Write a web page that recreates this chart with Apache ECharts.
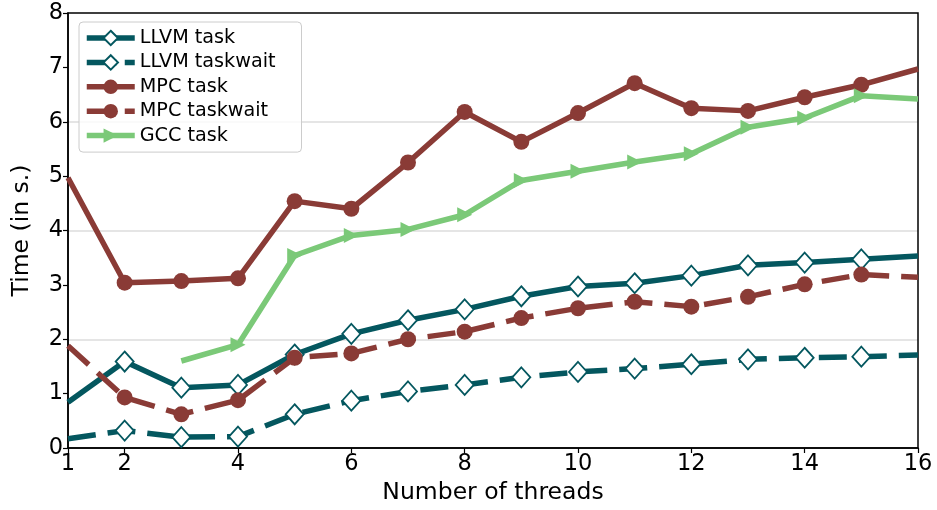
<!DOCTYPE html>
<html>
<head>
<meta charset="utf-8">
<script src="https://cdn.jsdelivr.net/npm/echarts@6/dist/echarts.min.js"></script>
<style>
html,body{margin:0;padding:0;background:#fff;}
#chart{width:937px;height:510px;}
</style>
</head>
<body>
<div id="chart"></div>
<script>
const threads = [1,2,3,4,5,6,7,8,9,10,11,12,13,14,15,16];
const xTickLabels = [1,2,4,6,8,10,12,14,16];
const yTickLabels = [0,1,2,3,4,5,6,7,8];
const llvmTask =     [0.84,1.59,1.11,1.16,1.72,2.10,2.35,2.55,2.79,2.97,3.03,3.17,3.36,3.41,3.47,3.53];
const llvmTaskwait = [0.17,0.32,0.20,0.21,0.62,0.87,1.04,1.16,1.30,1.40,1.46,1.54,1.63,1.66,1.68,1.71];
const mpcTask =      [4.97,3.04,3.07,3.12,4.54,4.40,5.25,6.18,5.63,6.16,6.71,6.25,6.20,6.45,6.68,6.97];
const mpcTaskwait =  [1.88,0.93,0.62,0.88,1.66,1.74,2.00,2.14,2.39,2.57,2.69,2.60,2.78,3.01,3.19,3.14];
const gccTask =      [null,null,1.60,1.90,3.54,3.91,4.02,4.29,4.92,5.09,5.26,5.41,5.90,6.07,6.48,6.42];

const TEAL = '#04575f';
const BROWN = '#8a3b36';
const GREEN = '#7bc978';

function buildData(vals){
  const idx = vals.map((v,i)=>v==null?-1:i).filter(i=>i>=0);
  const first = idx[0], last = idx[idx.length-1];
  const out = [];
  vals.forEach((v,i)=>{
    if(v==null) return;
    const item = {value:[threads[i], v]};
    if(i===first || i===last) item.symbol = 'none';
    out.push(item);
  });
  return out;
}

function mk(name, vals, color, dashed, symbol, symbolSize, fill, rotate){
  return {
    name, type:'line', data: buildData(vals),
    symbol, symbolSize, symbolRotate: rotate||0,
    showAllSymbol:true,
    lineStyle:{color, width:5.5, type: dashed ? [28,12] : 'solid', cap:'butt'},
    itemStyle:{color: fill, borderColor: color, borderWidth: fill==='#ffffff'?1.8:0},
    emphasis:{disabled:true},
    animation:false, clip:true
  };
}

const legendNames = ['LLVM task','LLVM taskwait','MPC task','MPC taskwait','GCC task'];
const legendDashed = [false,true,false,true,false];

const chart = echarts.init(document.getElementById('chart'), null, {renderer:'canvas'});
chart.setOption({
  backgroundColor:'#ffffff',
  animation:false,
  textStyle:{fontFamily:'DejaVu Sans'},
  grid:{left:68, right:19, top:13, bottom:61, show:true, borderColor:'#000', borderWidth:1.5, backgroundColor:'transparent', z:3},
  legend:{
    orient:'vertical', left:79, top:22,
    itemWidth:48, itemHeight:18, itemGap:5.4,
    padding:[6.5,26,7,5],
    backgroundColor:'rgba(255,255,255,0.8)', borderColor:'#cccccc', borderWidth:1, borderRadius:4,
    textStyle:{fontSize:19.2, color:'#000', fontFamily:'DejaVu Sans'},
    lineStyle:{width:5.5},
    data: legendNames.map((n,i)=>({name:n, lineStyle:{width:5.5, type: legendDashed[i] ? [30,8] : 'solid'}}))
  },
  xAxis:{
    type:'value', min:1, max:16,
    name:'Number of threads', nameLocation:'middle', nameGap:33,
    nameTextStyle:{fontSize:23.5, color:'#000', fontFamily:'DejaVu Sans'},
    axisLine:{show:true, lineStyle:{color:'#000', width:1.5}},
    axisTick:{show:true, length:5, lineStyle:{color:'#000', width:1.2}, customValues:xTickLabels},
    axisLabel:{fontSize:22.5, color:'#000', margin:5, customValues:xTickLabels},
    splitLine:{show:false}
  },
  yAxis:[{
    type:'value', min:0, max:8, interval:1,
    name:'Time (in s.)', nameLocation:'middle', nameGap:34,
    nameTextStyle:{fontSize:23.5, color:'#000', fontFamily:'DejaVu Sans'},
    axisLine:{show:true, lineStyle:{color:'#000', width:1.5}},
    axisTick:{show:true, length:5, lineStyle:{color:'#000', width:1.2}},
    axisLabel:{fontSize:22.5, color:'#000', margin:5, formatter:(v)=> yTickLabels.includes(v)? String(v):''},
    splitLine:{show:false}
  },{
    type:'value', min:0, max:8, interval:2, position:'left',
    axisLine:{show:false}, axisTick:{show:false}, axisLabel:{show:false},
    splitLine:{show:true, showMinLine:false, showMaxLine:false, lineStyle:{color:'#dddddd', width:1.5}}
  }],
  series:[
    mk('LLVM task', llvmTask, TEAL, false, 'diamond', [18,20], '#ffffff'),
    mk('LLVM taskwait', llvmTaskwait, TEAL, true, 'diamond', [18,20], '#ffffff'),
    mk('MPC task', mpcTask, BROWN, false, 'circle', 16, BROWN),
    mk('MPC taskwait', mpcTaskwait, BROWN, true, 'circle', 16, BROWN),
    mk('GCC task', gccTask, GREEN, false, 'triangle', 15, GREEN, -90)
  ]
});
</script>
</body>
</html>
